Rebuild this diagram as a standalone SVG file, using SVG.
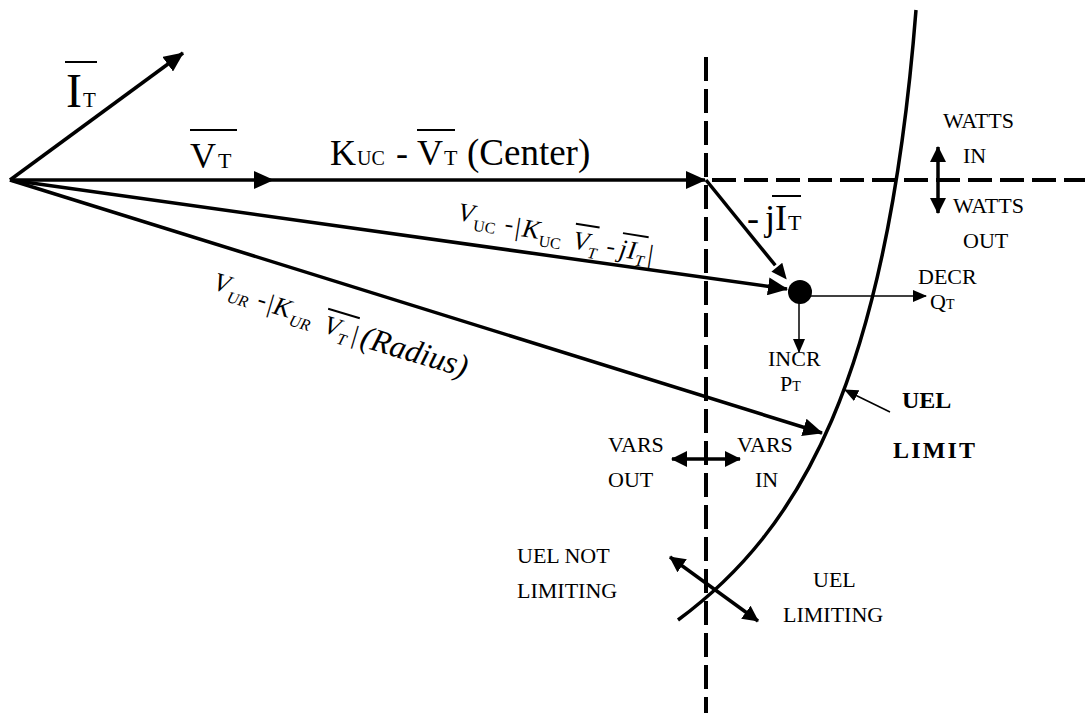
<svg xmlns="http://www.w3.org/2000/svg" width="1085" height="713" viewBox="0 0 1085 713">
<style>
text{font-family:"Liberation Serif","Times New Roman",serif;fill:#000}
.lbl{font-size:22px}
.b{font-weight:bold;font-size:24px}
.it{font-style:italic}
.vec{stroke:#000;stroke-width:3.5;fill:none}
.thin{stroke:#000;stroke-width:1.5;fill:none}
.dash{stroke:#000;stroke-width:4;stroke-dasharray:24 8;fill:none}
.ol{stroke:#000;stroke-width:2}
</style>
<defs>
<marker id="ah" viewBox="0 0 20 18" refX="19" refY="9" markerWidth="20" markerHeight="18" markerUnits="userSpaceOnUse" orient="auto"><path d="M0,0 L20,9 L0,18 z" fill="#000"/></marker>
<marker id="ahw" viewBox="0 0 20 18" refX="19" refY="9" markerWidth="20" markerHeight="18" markerUnits="userSpaceOnUse" orient="auto" overflow="visible"><path d="M0,0 L20,9 L0,18 z" fill="#000" stroke="#fff" stroke-width="2.5"/></marker>
<marker id="am" viewBox="0 0 16 16" refX="15" refY="8" markerWidth="16" markerHeight="16" markerUnits="userSpaceOnUse" orient="auto-start-reverse"><path d="M0,0 L16,8 L0,16 z" fill="#000"/></marker>
<marker id="as" viewBox="0 0 14 12" refX="13" refY="6" markerWidth="14" markerHeight="12" markerUnits="userSpaceOnUse" orient="auto"><path d="M0,0 L14,6 L0,12 z" fill="#000"/></marker>
</defs>
<rect width="1085" height="713" fill="#fff"/>

<g id="axes">
<line class="dash" x1="706" y1="57" x2="706" y2="713"/>
<line class="dash" x1="712" y1="180" x2="1085" y2="180"/>
</g>

<g id="uel-curve">
<path d="M916,10 C887,380 800,530 678,620" stroke="#000" stroke-width="3.5" fill="none"/>
</g>

<g id="connectors">
<line class="vec" x1="10" y1="180" x2="183" y2="53" marker-end="url(#ah)"/>
<line class="vec" x1="10" y1="180" x2="273" y2="180" marker-end="url(#ah)"/>
<line class="vec" x1="273" y1="180" x2="705" y2="180" marker-end="url(#ah)"/>
<line class="vec" x1="10" y1="180" x2="787" y2="289" marker-end="url(#ah)"/>
<line class="vec" x1="10" y1="180" x2="822" y2="433" marker-end="url(#ah)"/>
<line class="vec" x1="706" y1="180" x2="788" y2="281" marker-end="url(#ahw)"/>
<line class="thin" x1="800" y1="296" x2="926" y2="296" marker-end="url(#as)"/>
<line class="thin" x1="799" y1="300" x2="799" y2="352" marker-end="url(#as)"/>
<line class="thin" x1="890" y1="412" x2="845" y2="390" marker-end="url(#as)"/>
<line class="vec" x1="938" y1="147" x2="938" y2="213" marker-start="url(#am)" marker-end="url(#am)"/>
<line class="vec" x1="672" y1="459" x2="740" y2="459" marker-start="url(#am)" marker-end="url(#am)"/>
<line class="vec" x1="670" y1="557" x2="758" y2="621" marker-start="url(#am)" marker-end="url(#am)"/>
</g>

<g id="operating-point">
<circle cx="800" cy="292" r="12" fill="#000"/>
</g>

<g id="label-it">
<text x="66" y="107" font-size="48">I</text>
<text x="83" y="107" font-size="21">T</text>
<line class="ol" x1="65" y1="62" x2="97" y2="62"/>
</g>

<g id="label-vt">
<text x="190" y="168" font-size="36">V</text>
<text x="218" y="168" font-size="22">T</text>
<line class="ol" x1="190" y1="130" x2="237" y2="130"/>
</g>

<g id="label-kuc">
<text x="330" y="165" font-size="36">K</text>
<text x="357" y="165" font-size="20">UC</text>
<text x="396" y="165" font-size="36">-</text>
<text x="417" y="165" font-size="36">V</text>
<text x="444" y="165" font-size="22">T</text>
<line class="ol" x1="417" y1="130" x2="455" y2="130"/>
<text x="467" y="165" font-size="37">(Center)</text>
</g>

<g id="label-jit">
<text x="747" y="230" font-size="36">-</text>
<text x="765" y="230" font-size="36">j</text>
<text x="775" y="230" font-size="36">I</text>
<text x="788" y="230" font-size="22">T</text>
<line class="ol" x1="772" y1="196" x2="801" y2="196"/>
</g>

<g id="label-vuc" transform="translate(457,220) rotate(9)">
<text font-size="26"><tspan x="0" y="0" class="it">V</tspan><tspan x="17" y="8" font-size="16">UC</tspan><tspan x="48" y="4">-</tspan><tspan x="59" y="6">|</tspan><tspan x="66" y="6" class="it">K</tspan><tspan x="84" y="13" font-size="16">UC</tspan><tspan x="118" y="10" class="it">V</tspan><tspan x="134" y="17" font-size="16" class="it">T</tspan><tspan x="152" y="10">-</tspan><tspan x="165" y="11" class="it">j</tspan><tspan x="173" y="11" class="it">I</tspan><tspan x="182" y="17" font-size="16" class="it">T</tspan><tspan x="194" y="12">|</tspan></text>
<line class="ol" x1="118" y1="-15" x2="142" y2="-15" stroke-width="1.5"/>
<line class="ol" x1="166" y1="-13" x2="192" y2="-13" stroke-width="1.5"/>
</g>

<g id="label-vur" transform="translate(212,289) rotate(16.5)">
<text font-size="26"><tspan x="0" y="0" class="it">V</tspan><tspan x="17" y="8" font-size="16" class="it">UR</tspan><tspan x="47" y="4">-</tspan><tspan x="58" y="6">|</tspan><tspan x="64" y="6" class="it">K</tspan><tspan x="83" y="13" font-size="16" class="it">UR</tspan><tspan x="118" y="10" class="it">V</tspan><tspan x="134" y="17" font-size="16" class="it">T</tspan><tspan x="148" y="12">|</tspan><tspan x="157" y="13" font-size="32" class="it">(Radius)</tspan></text>
<line class="ol" x1="117" y1="-14" x2="150" y2="-14" stroke-width="1.5"/>
</g>

<g id="label-watts-in">
<text class="lbl" x="943" y="128">WATTS</text>
<text class="lbl" x="963" y="163">IN</text>
</g>
<g id="label-watts-out">
<text class="lbl" x="953" y="213">WATTS</text>
<text class="lbl" x="963" y="248">OUT</text>
</g>
<g id="label-decr">
<text class="lbl" x="918" y="284">DECR</text>
<text class="lbl" x="930" y="309">Q<tspan font-size="14">T</tspan></text>
</g>
<g id="label-incr">
<text class="lbl" x="768" y="366">INCR</text>
<text class="lbl" x="780" y="391">P<tspan font-size="14">T</tspan></text>
</g>
<g id="label-uel-limit">
<text class="b" x="902" y="408">UEL</text>
<text class="b" x="893" y="458" textLength="82">LIMIT</text>
</g>
<g id="label-vars-out">
<text class="lbl" x="608" y="452">VARS</text>
<text class="lbl" x="608" y="487">OUT</text>
</g>
<g id="label-vars-in">
<text class="lbl" x="737" y="452">VARS</text>
<text class="lbl" x="755" y="487">IN</text>
</g>
<g id="label-uel-not-limiting">
<text class="lbl" x="517" y="563">UEL NOT</text>
<text class="lbl" x="517" y="598">LIMITING</text>
</g>
<g id="label-uel-limiting">
<text class="lbl" x="813" y="587">UEL</text>
<text class="lbl" x="783" y="622">LIMITING</text>
</g>
</svg>
